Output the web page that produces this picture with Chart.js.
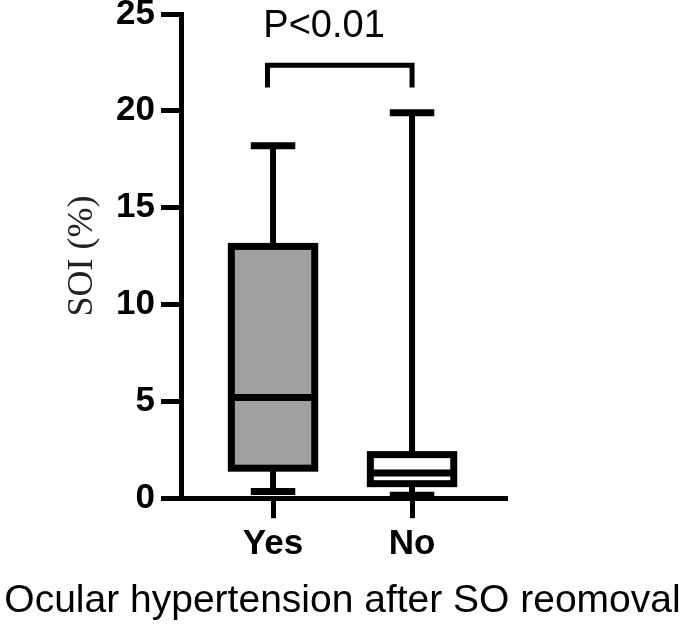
<!DOCTYPE html>
<html lang="en">

<head>
    <meta charset="UTF-8">
    <title>SOI box plot</title>
    <script src="https://cdn.jsdelivr.net/npm/chart.js"></script>
    <style>
        body { margin: 0; background: #fff; }
        #wrap { width: 685px; height: 626px; position: relative; }
    </style>
</head>

<body>
    <div id="wrap"><canvas id="soiChart"></canvas></div>

    <script>
        // values
        const categories = ['Yes', 'No'];
        const whiskerLow = [0.35, 0.15];
        const q1 = [1.55, 0.75];
        const medians = [5.2, 1.3];
        const q3 = [13.0, 2.25];
        const whiskerHigh = [18.2, 19.9];
        const yTicks = [0, 5, 10, 15, 20, 25];

        // significance bracket (data units)
        const pLabel = 'P<0.01';
        const bracketX = [0.96, 2.0];
        const bracketY = [21.2, 22.35];
        const pLabelPos = [0.93, 23.8];

        const boxFill = ['#a0a0a0', '#ffffff'];

        Chart.defaults.font.family = '"Liberation Sans", Arial, sans-serif';
        Chart.defaults.color = '#000';

        const boxPlot = {
            id: 'boxPlot',
            afterDraw(chart) {
                const ctx = chart.ctx;
                const xs = chart.scales.x;
                const ys = chart.scales.y;
                ctx.save();
                ctx.strokeStyle = '#000';
                ctx.lineCap = 'butt';
                categories.forEach((c, i) => {
                    const cx = xs.getPixelForValue(i + 1);
                    const l = xs.getPixelForValue(i + 1 - 0.3);
                    const r = xs.getPixelForValue(i + 1 + 0.3);
                    const cl = xs.getPixelForValue(i + 1 - 0.16);
                    const cr = xs.getPixelForValue(i + 1 + 0.16);
                    const top = ys.getPixelForValue(q3[i]);
                    const bot = ys.getPixelForValue(q1[i]);

                    // whiskers
                    ctx.lineWidth = 6;
                    ctx.beginPath();
                    ctx.moveTo(cx, top);
                    ctx.lineTo(cx, ys.getPixelForValue(whiskerHigh[i]));
                    ctx.moveTo(cx, bot);
                    ctx.lineTo(cx, ys.getPixelForValue(whiskerLow[i]));
                    ctx.stroke();
                    ctx.lineWidth = 7;
                    ctx.beginPath();
                    ctx.moveTo(cl, ys.getPixelForValue(whiskerHigh[i]));
                    ctx.lineTo(cr, ys.getPixelForValue(whiskerHigh[i]));
                    ctx.moveTo(cl, ys.getPixelForValue(whiskerLow[i]));
                    ctx.lineTo(cr, ys.getPixelForValue(whiskerLow[i]));
                    ctx.stroke();

                    // box
                    ctx.fillStyle = boxFill[i];
                    ctx.fillRect(l, top, r - l, bot - top);
                    ctx.lineWidth = 7;
                    ctx.lineJoin = 'miter';
                    ctx.strokeRect(l, top, r - l, bot - top);

                    // median
                    const m = ys.getPixelForValue(medians[i]);
                    ctx.beginPath();
                    ctx.moveTo(l, m);
                    ctx.lineTo(r, m);
                    ctx.stroke();
                });

                // bracket + p value
                const bl = xs.getPixelForValue(bracketX[0]);
                const br = xs.getPixelForValue(bracketX[1]);
                const bLow = ys.getPixelForValue(bracketY[0]);
                const bTop = ys.getPixelForValue(bracketY[1]);
                ctx.lineWidth = 5;
                ctx.beginPath();
                ctx.moveTo(bl, bLow);
                ctx.lineTo(bl, bTop);
                ctx.lineTo(br, bTop);
                ctx.lineTo(br, bLow);
                ctx.stroke();

                ctx.fillStyle = '#000';
                ctx.font = '38px "Liberation Sans", Arial, sans-serif';
                ctx.textAlign = 'left';
                ctx.textBaseline = 'alphabetic';
                ctx.fillText(pLabel, xs.getPixelForValue(pLabelPos[0]), ys.getPixelForValue(pLabelPos[1]));
                ctx.restore();
            }
        };

        new Chart(document.getElementById('soiChart'), {
            type: 'scatter',
            data: { datasets: [] },
            plugins: [boxPlot],
            options: {
                responsive: true,
                maintainAspectRatio: false,
                animation: false,
                layout: { padding: { top: 14, left: 0, right: 0, bottom: 0 } },
                plugins: {
                    legend: { display: false },
                    tooltip: { enabled: false },
                    title: {
                        display: true,
                        position: 'bottom',
                        text: 'Ocular hypertension after SO reomoval',
                        color: '#000',
                        font: { size: 39, weight: 'normal' },
                        padding: { top: 0, bottom: 1 }
                    }
                },
                scales: {
                    x: {
                        type: 'linear',
                        position: 'bottom',
                        min: 0.338,
                        max: 2.683,
                        afterBuildTicks: s => { s.ticks = categories.map((c, i) => ({ value: i + 1 })); },
                        afterFit: s => { s.height = 80; s.paddingLeft = 0; s.paddingRight = 0; },
                        ticks: {
                            callback: v => categories[Math.round(v) - 1],
                            font: { size: 35, weight: 'bold' },
                            color: '#000',
                            padding: 5,
                            maxRotation: 0,
                            autoSkip: false
                        },
                        grid: { drawOnChartArea: false, tickLength: 20, tickWidth: 5, color: '#000' },
                        border: { width: 5, color: '#000' }
                    },
                    y: {
                        type: 'linear',
                        position: 'left',
                        min: 0,
                        max: 25,
                        afterBuildTicks: s => { s.ticks = yTicks.map(v => ({ value: v })); },
                        afterFit: s => { s.width = 181; s.paddingTop = 0; s.paddingBottom = 0; },
                        ticks: {
                            font: { size: 35, weight: 'bold' },
                            color: '#000',
                            padding: 6
                        },
                        grid: { drawOnChartArea: false, tickLength: 20, tickWidth: 5, color: '#000' },
                        border: { width: 5, color: '#000' },
                        title: {
                            display: true,
                            text: 'SOI (%)',
                            color: '#222',
                            font: { family: '"Liberation Serif", "Times New Roman", serif', size: 36, weight: 'normal' },
                            padding: { top: 61, bottom: 0 }
                        }
                    },
                    pad: {
                        // empty right-hand axis, only reserves the blank space right of the plot
                        type: 'linear',
                        position: 'right',
                        display: true,
                        afterFit: s => { s.width = 178; },
                        ticks: { display: false },
                        grid: { display: false },
                        border: { display: false }
                    }
                }
            }
        });
    </script>
</body>

</html>
